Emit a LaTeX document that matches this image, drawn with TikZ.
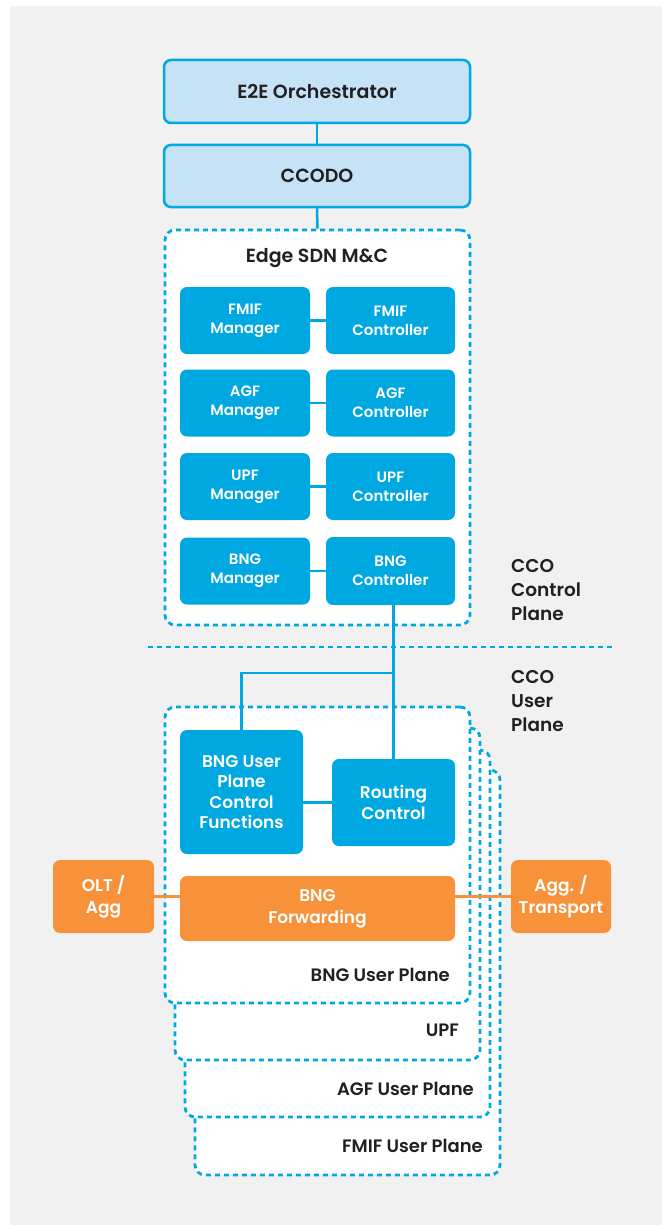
\documentclass[tikz,border=0pt]{standalone}
\usepackage{fontspec}
\setmainfont{Poppins}[BoldFont={Poppins SemiBold}]
\definecolor{cyanb}{HTML}{00A8E1}
\definecolor{lightb}{HTML}{C6E2F6}
\definecolor{orng}{HTML}{F7923A}
\definecolor{bgc}{HTML}{F1F1F1}
\definecolor{dark}{HTML}{231F20}
\tikzset{
  topbox/.style={draw=cyanb, fill=lightb, line width=2.5pt, rounded corners=7pt, inner sep=0pt,
    text=dark, font=\fontsize{19}{22}\selectfont\bfseries},
  cbox/.style={fill=cyanb, rounded corners=7pt, inner sep=0pt, text=white, align=center,
    font=\fontsize{15}{19}\selectfont\bfseries},
  cboxl/.style={cbox, font=\fontsize{17}{20.5}\selectfont\bfseries},
  obox/.style={fill=orng, rounded corners=7pt, inner sep=0pt, text=white, align=center,
    font=\fontsize{17}{22}\selectfont\bfseries},
  dbox/.style={draw=cyanb, fill=white, line width=2.8pt, dash pattern=on 5pt off 4pt,
    rounded corners=10pt, inner sep=0pt},
  lbl/.style={text=dark, inner sep=0pt, font=\fontsize{18}{24}\selectfont\bfseries},
  conn/.style={draw=cyanb, line width=2.5pt},
  oconn/.style={draw=orng, line width=2.5pt}
}
\begin{document}
\begin{tikzpicture}[x=1pt,y=-1pt]
\useasboundingbox (0,0) rectangle (662,1225);
\fill[bgc] (10,6) rectangle (662,1225);

% top boxes
\node[topbox, minimum width=306pt, minimum height=63pt] (e2e) at (317,91.5) {E2E Orchestrator};
\node[topbox, minimum width=306pt, minimum height=62pt] (ccodo) at (317,176) {CCODO};

% Edge SDN M&C container
\node[dbox, minimum width=305pt, minimum height=395pt] (sdn) at (317.5,427.5) {};
\node[lbl, font=\fontsize{19}{22}\selectfont\bfseries] (sdnl) at (317,258) {Edge SDN M\&C};

\node[cbox, minimum width=130pt, minimum height=67pt] (fmifm) at (245,320.5) {FMIF\\Manager};
\node[cbox, minimum width=129pt, minimum height=67pt] (fmifc) at (390.5,320.5) {FMIF\\Controller};
\node[cbox, minimum width=130pt, minimum height=67pt] (agfm) at (245,403) {AGF\\Manager};
\node[cbox, minimum width=129pt, minimum height=67pt] (agfc) at (390.5,403) {AGF\\Controller};
\node[cbox, minimum width=130pt, minimum height=67pt] (upfm) at (245,486.5) {UPF\\Manager};
\node[cbox, minimum width=129pt, minimum height=67pt] (upfc) at (390.5,486.5) {UPF\\Controller};
\node[cbox, minimum width=130pt, minimum height=67pt] (bngm) at (245,571) {BNG\\Manager};
\node[cbox, minimum width=129pt, minimum height=68pt] (bngc) at (390.5,571) {BNG\\Controller};

% plane separator
\coordinate (sepl) at (148,647);
\coordinate (sepr) at (613,647);
\draw[cyanb, line width=2.8pt, dash pattern=on 5pt off 4pt] (sepl) -- (sepr);

\node[lbl, anchor=west, align=left, font=\fontsize{18.5}{24}\selectfont\bfseries] (ccocp) at (511,590) {CCO\\Control\\Plane};
\node[lbl, anchor=west, align=left, font=\fontsize{18.5}{24}\selectfont\bfseries] (ccoup) at (511,701) {CCO\\User\\Plane};

% stacked user plane containers (back to front)
\node[dbox, minimum width=305pt, minimum height=405pt] (fmifup) at (347.5,972.5) {};
\node[dbox, minimum width=305pt, minimum height=367pt] (agfup) at (337.5,933.5) {};
\node[dbox, minimum width=305pt, minimum height=332pt] (upfup) at (327.5,894) {};
\node[dbox, minimum width=305pt, minimum height=296pt] (bngup) at (317.5,855) {};

\node[lbl, anchor=east] (bngupl) at (450,975) {BNG User Plane};
\node[lbl, anchor=east] (upfl) at (459,1030) {UPF};
\node[lbl, anchor=east] (agfl) at (474,1089) {AGF User Plane};
\node[lbl, anchor=east] (fmifl) at (483,1146) {FMIF User Plane};

\node[cboxl, minimum width=123pt, minimum height=124pt] (upcf) at (241.5,792) {BNG User\\Plane\\Control\\Functions};
\node[cboxl, minimum width=123pt, minimum height=87pt] (rc) at (393.5,802.5) {Routing\\Control};

\node[obox, minimum width=275pt, minimum height=65pt] (fwd) at (317.5,908.5) {BNG\\Forwarding};
\node[obox, minimum width=101pt, minimum height=73pt] (olt) at (103.5,896.5) {OLT /\\Agg};
\node[obox, minimum width=100pt, minimum height=73pt] (agg) at (561,896.5) {Agg. /\\Transport};

% connectors
\draw[conn] (e2e.south) -- (ccodo.north);
\draw[conn] (ccodo.south) -- (sdn.north);
\draw[conn] (fmifm.east) -- (fmifc.west);
\draw[conn] (agfm.east) -- (agfc.west);
\draw[conn] (upfm.east) -- (upfc.west);
\draw[conn] (bngm.east) -- (bngc.west);
\draw[conn] (rc.north |- bngc.south) -- (rc.north);
\coordinate (jn) at (393.5,673);
\draw[conn] (jn) -- (jn -| upcf.north) -- (upcf.north);
\draw[conn] (rc.west -| upcf.east) -- (rc.west);
\draw[oconn] (olt.east) -- (olt.east -| fwd.west);
\draw[oconn] (agg.west) -- (agg.west -| fwd.east);
\end{tikzpicture}
\end{document}
